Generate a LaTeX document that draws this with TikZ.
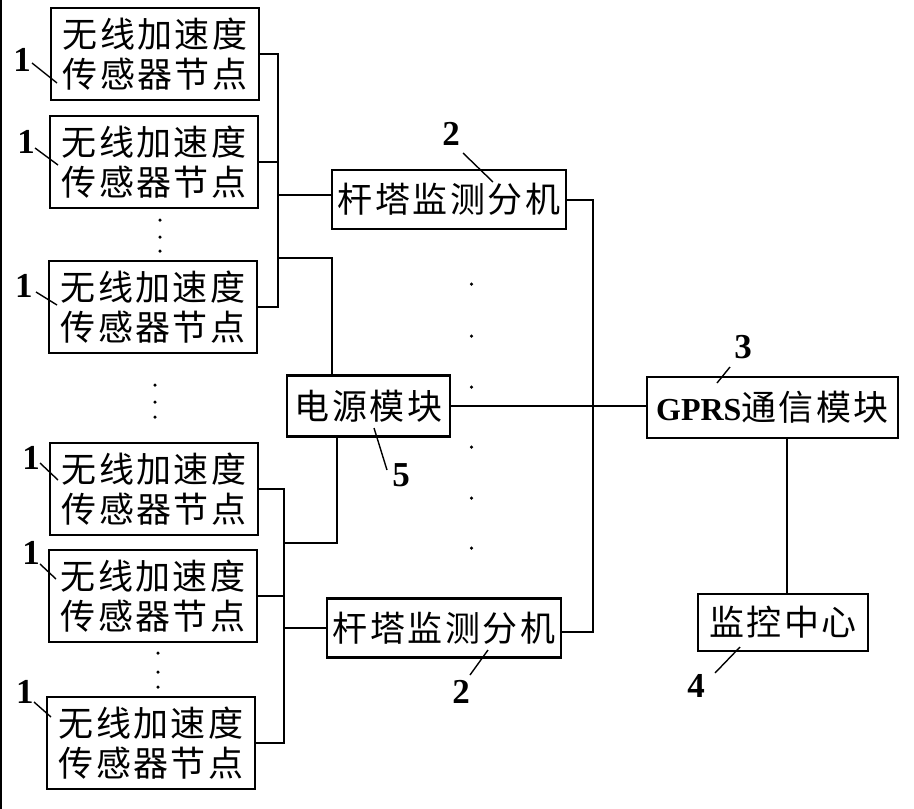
\documentclass[tikz,border=0pt]{standalone}
\usepackage{fontspec}
\newfontfamily\cjk[LetterSpace=7]{Noto Sans CJK SC}
\newfontfamily\numfont{Liberation Serif}
\begin{document}
\begin{tikzpicture}[x=1pt,y=-1pt,
  box/.style={draw, line width=2.2pt, inner sep=0pt, align=center,
    font=\fontsize{35pt}{40pt}\selectfont\cjk},
  sensor/.style={box, minimum width=208pt, minimum height=92pt},
  tower/.style={box, minimum width=234pt, minimum height=59pt},
  wire/.style={line width=2pt},
  leader/.style={line width=1.4pt},
  lbl/.style={inner sep=0pt, font=\fontsize{35pt}{35pt}\selectfont\numfont\bfseries},
  dotmark/.style={circle, fill=black, inner sep=0pt, minimum size=3.5pt}]
\useasboundingbox (0,0) rectangle (914,809);
\draw[wire] (1,0) -- (1,809);

% sensor nodes
\node[sensor] (S1) at (155,54) {无线加速度\\传感器节点};
\node[sensor] (S2) at (154,162) {无线加速度\\传感器节点};
\node[sensor] (S3) at (153,307) {无线加速度\\传感器节点};
\node[sensor] (S4) at (154,489) {无线加速度\\传感器节点};
\node[sensor] (S5) at (153,596) {无线加速度\\传感器节点};
\node[sensor] (S6) at (151,743) {无线加速度\\传感器节点};

% other boxes
\node[tower] (T1) at (449,199.5) {杆塔监测分机};
\node[tower] (T2) at (444,628) {杆塔监测分机};
\node[box, minimum width=163pt, minimum height=61pt] (P) at (368.5,406) {电源模块};
\node[box, minimum width=251pt, minimum height=61pt] (G) at (772.5,407.5)
  {{\numfont\bfseries\fontsize{32pt}{32pt}\selectfont GPRS}通信模块};
\node[box, minimum width=170pt, minimum height=57pt] (M) at (783,622.5) {监控中心};

% bus coordinates
\coordinate (b1) at (278,0);
\coordinate (b2) at (284,0);
\coordinate (rb) at (593,0);
\coordinate (pj1) at (278,258);
\coordinate (pj2) at (284,543);

% upper sensor bus
\draw[wire] (S1.east) -- (S1.east -| b1) -- (S3.east -| b1) -- (S3.east);
\draw[wire] (S2.east) -- (S2.east -| b1);
\draw[wire] ([yshift=4.5pt]T1.west) -- ([yshift=4.5pt]T1.west -| b1);
\draw[wire] (pj1) -| ([xshift=-36.5pt]P.north);

% lower sensor bus
\draw[wire] (S4.east) -- (S4.east -| b2) -- (S6.east -| b2) -- (S6.east);
\draw[wire] (S5.east) -- (S5.east -| b2);
\draw[wire] (T2.west) -- (T2.west -| b2);
\draw[wire] (pj2) -| ([xshift=-31.5pt]P.south);

% right bus
\draw[wire] (T1.east) -- (T1.east -| rb) -- ([yshift=-4pt]T2.east -| rb) -- ([yshift=-4pt]T2.east);
\draw[wire] (P.east) -- (P.east -| G.west);
\draw[wire] ([xshift=14.5pt]G.south) -- ([xshift=14.5pt]G.south |- M.north);

% dots
\foreach \y [count=\i] in {220,237,251} \node[dotmark] (da\i) at (160,\y) {};
\foreach \y [count=\i] in {385,402,417} \node[dotmark] (db\i) at (155,\y) {};
\foreach \y [count=\i] in {653,672,687} \node[dotmark] (dc\i) at (158,\y) {};
\foreach \y [count=\i] in {284,336,387,447,498,548} \node[dotmark] (dm\i) at (471.5,\y) {};

% labels 1
\node[lbl] (L1) at (22,60) {1};
\coordinate (L1a) at (32,63); \coordinate (L1b) at (57,83);
\draw[leader] (L1a) -- (L1b);
\node[lbl] (L2) at (26,142) {1};
\coordinate (L2a) at (35,148); \coordinate (L2b) at (58,165);
\draw[leader] (L2a) -- (L2b);
\node[lbl] (L3) at (24,286) {1};
\coordinate (L3a) at (36,292); \coordinate (L3b) at (57,305);
\draw[leader] (L3a) -- (L3b);
\node[lbl] (L4) at (31,458) {1};
\coordinate (L4a) at (40,463); \coordinate (L4b) at (58,480);
\draw[leader] (L4a) -- (L4b);
\node[lbl] (L5) at (31,553) {1};
\coordinate (L5a) at (40,564); \coordinate (L5b) at (56,579);
\draw[leader] (L5a) -- (L5b);
\node[lbl] (L6) at (25,692) {1};
\coordinate (L6a) at (34,702); \coordinate (L6b) at (51,717);
\draw[leader] (L6a) -- (L6b);

% label 2 (top)
\node[lbl] (N2a) at (451,134) {2};
\coordinate (N2aa) at (463,153); \coordinate (N2ab) at (493,182);
\draw[leader] (N2aa) -- (N2ab);
% label 2 (bottom)
\node[lbl] (N2b) at (461,692) {2};
\coordinate (N2ba) at (470,675); \coordinate (N2bb) at (488,650);
\draw[leader] (N2ba) -- (N2bb);
% label 3
\node[lbl] (N3) at (743,347) {3};
\coordinate (N3a) at (730,367); \coordinate (N3b) at (717,383);
\draw[leader] (N3a) -- (N3b);
% label 4
\node[lbl] (N4) at (696,686) {4};
\coordinate (N4a) at (715,673); \coordinate (N4b) at (740,647);
\draw[leader] (N4a) -- (N4b);
% label 5
\node[lbl] (N5) at (401,475) {5};
\coordinate (N5a) at (374,428); \coordinate (N5b) at (387,470);
\draw[leader] (N5a) -- (N5b);
\end{tikzpicture}
\end{document}
